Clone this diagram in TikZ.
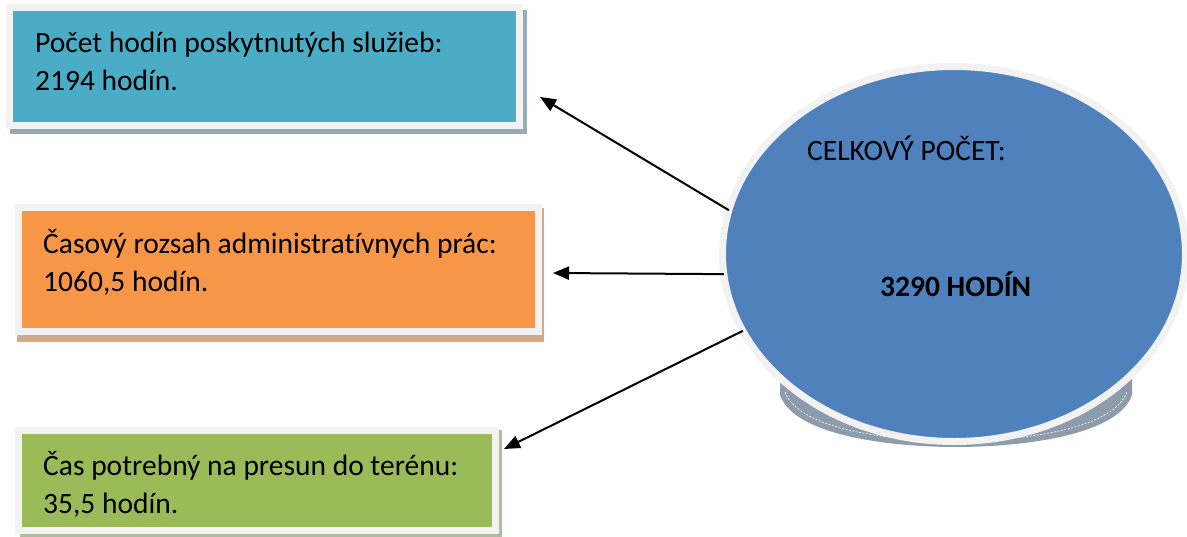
\documentclass[tikz,border=0pt]{standalone}
\usepackage{fontspec}
\setmainfont[Ligatures=NoCommon]{Carlito}
\usetikzlibrary{arrows.meta,shapes.geometric}
\definecolor{cteal}{HTML}{4BACC6}
\definecolor{corange}{HTML}{F79646}
\definecolor{cgreen}{HTML}{9BBB59}
\definecolor{cblue}{HTML}{4F81BD}
\definecolor{cframe}{HTML}{F2F2F2}
\definecolor{shteal}{HTML}{93ACB8}
\definecolor{shorange}{HTML}{D4A88A}
\definecolor{shgreen}{HTML}{AEBC9A}
\definecolor{shblue}{HTML}{8E9BAB}
\tikzset{
  boxframe/.style={draw=cframe,line width=7pt,inner sep=0pt,outer sep=0pt,anchor=north west},
  txt/.style={anchor=base west,inner sep=0pt,font=\fontsize{29.5}{33}\selectfont},
  conn/.style={line width=2pt,-{Triangle[length=16pt,width=13pt]}}
}
\begin{document}
\begin{tikzpicture}[x=1pt,y=-1pt]
\useasboundingbox (0,0) rectangle (1187,536);
% box 1
\fill[shteal] (10,10) rectangle (527,134);
\node[boxframe,fill=cteal,minimum width=510pt,minimum height=118pt] (b1) at (9.5,7.5) {};
\node[txt] (t1a) at (35,52) {Počet hodín poskytnutých služieb:};
\node[txt] (t1b) at (35,90) {2194 hodín.};
% box 2
\fill[shorange] (17,208) rectangle (544,342);
\node[boxframe,fill=corange,minimum width=520pt,minimum height=124pt] (b2) at (18,207.5) {};
\node[txt] (t2a) at (43,253) {Časový rozsah administratívnych prác:};
\node[txt] (t2b) at (43,291) {1060,5 hodín.};
% box 3
\fill[shgreen] (20,430) rectangle (502,540);
\node[boxframe,fill=cgreen,minimum width=477pt,minimum height=100pt] (b3) at (18,430) {};
\node[txt] (t3a) at (43,475) {Čas potrebný na presun do terénu:};
\node[txt] (t3b) at (43,513) {35,5 hodín.};
% ellipse shadow
\fill[shblue] (780,378) -- (780,395) .. controls (795,438) and (900,447) .. (956,447) .. controls (1012,447) and (1117,438) .. (1132,395) -- (1132,378) -- cycle;
\draw[white,line width=0.6pt,dash pattern=on 2pt off 1.5pt] (785,392) .. controls (800,432) and (900,441) .. (956,441) .. controls (1012,441) and (1112,432) .. (1127,392);
% ellipse
\node[ellipse,draw=cframe,fill=cblue,line width=7pt,inner sep=0pt,outer sep=0pt,minimum width=463pt,minimum height=375pt] (ell) at (954,254) {};
\node[txt] (et1) at (807,160) {CELKOVÝ POČET:};
\node[txt,font=\fontsize{29.5}{33}\selectfont\bfseries] (et2) at (880,296) {3290 HODÍN};
% arrows
\coordinate (a1) at (540,97);
\coordinate (a2) at (553,273);
\coordinate (a3) at (504,449);
\draw[conn] (ell.169.5) -- (a1);
\draw[conn] (ell.185.4) -- (a2);
\draw[conn] (ell.200.5) -- (a3);
\end{tikzpicture}
\end{document}
